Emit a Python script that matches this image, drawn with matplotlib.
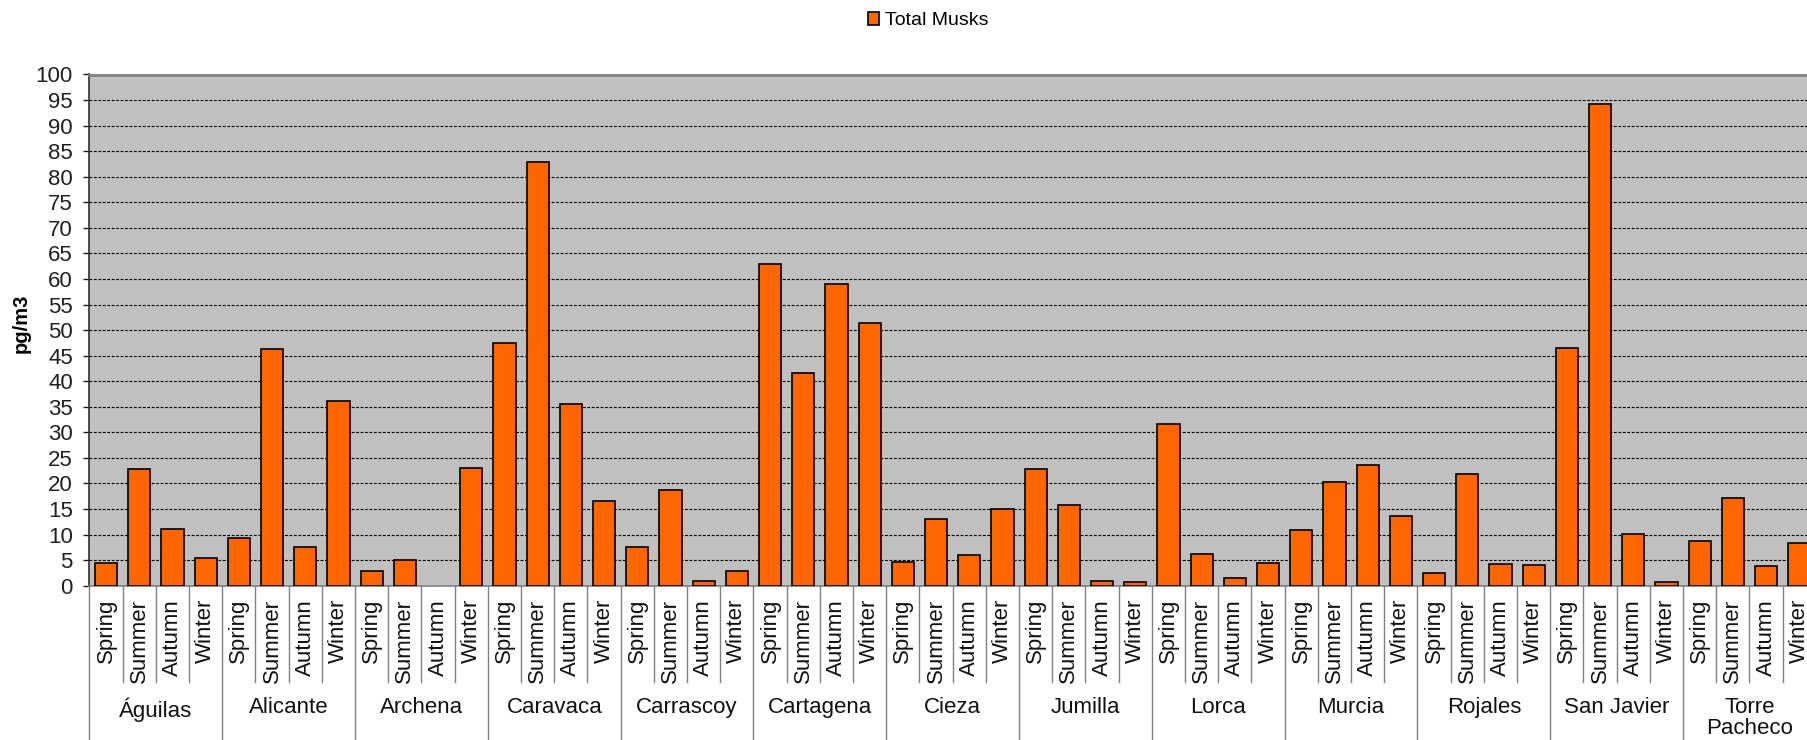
import numpy as np
import matplotlib
matplotlib.use("Agg")
import matplotlib.pyplot as plt
from matplotlib.transforms import blended_transform_factory

plt.rcParams['font.family'] = ['Liberation Sans', 'DejaVu Sans']

# Seasonal total musk concentrations (pg/m3) per sampling site
seasons = ['Spring', 'Summer', 'Autumn', 'Winter']
sites = ['Águilas', 'Alicante', 'Archena', 'Caravaca', 'Carrascoy', 'Cartagena',
         'Cieza', 'Jumilla', 'Lorca', 'Murcia', 'Rojales', 'San Javier',
         'Torre\nPacheco']

aguilas = [4.4, 22.8, 11.1, 5.5]
alicante = [9.3, 46.3, 7.6, 36.2]
archena = [2.9, 5.1, np.nan, 23.0]
caravaca = [47.4, 82.9, 35.5, 16.5]
carrascoy = [7.6, 18.8, 0.85, 2.9]
cartagena = [63.0, 41.7, 59.1, 51.4]
cieza = [4.7, 13.1, 6.1, 15.1]
jumilla = [22.9, 15.8, 0.85, 0.7]
lorca = [31.7, 6.2, 1.6, 4.5]
murcia = [10.9, 20.3, 23.7, 13.6]
rojales = [2.5, 21.8, 4.2, 4.0]
san_javier = [46.5, 94.3, 10.1, 0.7]
torre_pacheco = [8.7, 17.1, 3.9, 8.3]

series = [aguilas, alicante, archena, caravaca, carrascoy, cartagena, cieza,
          jumilla, lorca, murcia, rojales, san_javier, torre_pacheco]
values = np.concatenate([np.asarray(s, dtype=float) for s in series])
n_seasons = len(seasons)
n = len(values)
x = np.arange(n)

W, H = 1808, 740
fig = plt.figure(figsize=(W / 100, H / 100), dpi=100)

# Plot area in pixels: left edge, top, zero line, slot width
left_px, top_px, zero_px, slot_px = 89.5, 74.5, 585.7, 33.2
ax = fig.add_axes([left_px / W, 1 - zero_px / H,
                   n * slot_px / W, (zero_px - top_px) / H])

ax.set_facecolor('#C0C0C0')
bars = ax.bar(x, values, width=0.667, color='#FF6600', edgecolor='black',
              linewidth=1.2, zorder=3, label='Total Musks')

ax.set_xlim(-0.5, n - 0.5)
ax.set_ylim(0, 100)
ax.set_yticks(np.arange(0, 101, 5))
ax.yaxis.grid(True, color='black', linestyle=(0, (2.5, 1.5)), linewidth=0.8,
              zorder=1)
ax.set_axisbelow(True)
ax.tick_params(axis='y', direction='out', length=4.5, width=1, pad=7.5,
               labelsize=16, colors='#202020')
ax.set_xticks([])

for side in ('top', 'right'):
    ax.spines[side].set_color('#808080')
    ax.spines[side].set_linewidth(2)
ax.spines['left'].set_color('#303030')
ax.spines['left'].set_linewidth(1.2)
ax.spines['bottom'].set_color('#808080')
ax.spines['bottom'].set_linewidth(1.2)

# Two-level category axis below the plot area
span = zero_px - top_px
trans = blended_transform_factory(ax.transData, ax.transAxes)
season_bottom = -(681.7 - zero_px) / span
group_bottom = -(H + 5 - zero_px) / span
for k in range(n + 1):
    xb = k - 0.5
    y1 = group_bottom if k % n_seasons == 0 else season_bottom
    ax.plot([xb, xb], [0, y1], transform=trans, color='#808080',
            linewidth=1.0, clip_on=False)

season_top = -(599 - zero_px) / span
for i in range(n):
    ax.text(i, season_top, seasons[i % n_seasons], transform=trans,
            rotation=90, ha='center', va='top', fontsize=16, color='#111111')

group_top = -(697 - zero_px) / span
for g, name in enumerate(sites):
    xc = g * n_seasons + (n_seasons - 1) / 2
    ax.text(xc, group_top, name, transform=trans, ha='center', va='top',
            fontsize=16, color='#111111', linespacing=1.0)

fig.text(21 / W, 1 - 323 / H, 'pg/m3', rotation=90, ha='center', va='center',
         fontsize=14.5, fontweight='bold')

fig.legend(handles=[bars], labels=['Total Musks'], loc='center',
           bbox_to_anchor=(928 / W, 1 - 20.7 / H), frameon=False,
           fontsize=14, handlelength=0.6, handleheight=0.6,
           handletextpad=0.3)

fig.savefig('out.png', dpi=100)
